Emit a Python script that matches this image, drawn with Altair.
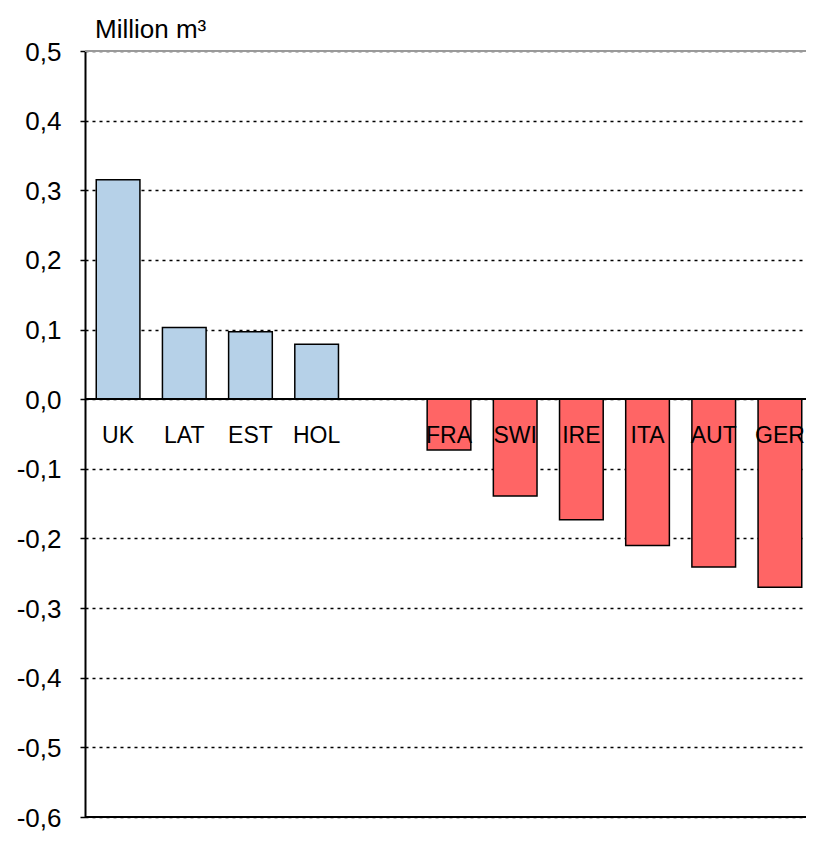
import altair as alt
import pandas as pd

countries = ["UK", "LAT", "EST", "HOL", "FRA", "SWI", "IRE", "ITA", "AUT", "GER"]
values = [0.315, 0.103, 0.097, 0.079, -0.073, -0.139, -0.173, -0.210, -0.241, -0.270]
slots = ["UK", "LAT", "EST", "HOL", "", "FRA", "SWI", "IRE", "ITA", "AUT", "GER"]
y_ticks = [0.5, 0.4, 0.3, 0.2, 0.1, 0.0, -0.1, -0.2, -0.3, -0.4, -0.5, -0.6]
unit_title = ["Million m³"]

df = pd.DataFrame({"country": countries, "value": values})
df["sign"] = ["pos" if v >= 0 else "neg" for v in values]
title_df = pd.DataFrame({"t": unit_title})

FONT = "Liberation Sans"

x_enc = alt.X(
    "country:N",
    sort=slots,
    scale=alt.Scale(domain=slots, range=[0, 728], paddingInner=0.34, paddingOuter=0.17),
    axis=None,
)

y_scale = alt.Scale(domain=[-0.6, 0.5], nice=False, zero=False)

base = alt.Chart(df)

bars = base.mark_bar(stroke="black", strokeWidth=1.5).encode(
    x=x_enc,
    y=alt.Y(
        "value:Q",
        scale=y_scale,
        title=None,
        axis=alt.Axis(
            values=y_ticks,
            labelExpr="(datum.value < -0.001 ? '-' : '') + replace(format(abs(datum.value), '.1f'), '.', ',')",
            labelFont=FONT,
            labelFontSize=26,
            labelColor="black",
            labelPadding=19,
            labelOffset=1,
            tickColor="black",
            tickSize=5,
            tickWidth=1.5,
            domainColor="black",
            domainWidth=2,
            grid=True,
            gridColor="black",
            gridDash=[3, 4],
            gridWidth=1.6,
        ),
    ),
    y2=alt.datum(0),
    color=alt.Color(
        "sign:N",
        scale=alt.Scale(domain=["pos", "neg"], range=["#B6D1E8", "#FF6565"]),
        legend=None,
    ),
)

zero_rule = base.mark_rule(color="black", strokeWidth=1.5).encode(y=alt.datum(0.0))
bottom_rule = base.mark_rule(color="black", strokeWidth=2).encode(y=alt.datum(-0.6))
top_rule = base.mark_rule(color="#999999", strokeWidth=1).encode(y=alt.datum(0.5))

labels = base.mark_text(
    baseline="alphabetic", align="center", dy=44, font=FONT, fontSize=23, color="black"
).encode(x=x_enc, y=alt.datum(0.0), text="country:N")

unit = alt.Chart(title_df).mark_text(
    baseline="alphabetic", align="left", font=FONT, fontSize=26, color="black"
).encode(text="t:N", x=alt.value(10), y=alt.value(-13))

chart = (
    alt.layer(top_rule, bars, zero_rule, bottom_rule, labels, unit)
    .properties(
        width=721,
        height=766,
        padding={"left": 77, "top": 43, "right": 0, "bottom": 18},
        autosize=alt.AutoSizeParams(type="none"),
    )
    .configure_view(stroke=None)
)

chart.save("out.html", embed_options={"renderer": "svg", "actions": False})
